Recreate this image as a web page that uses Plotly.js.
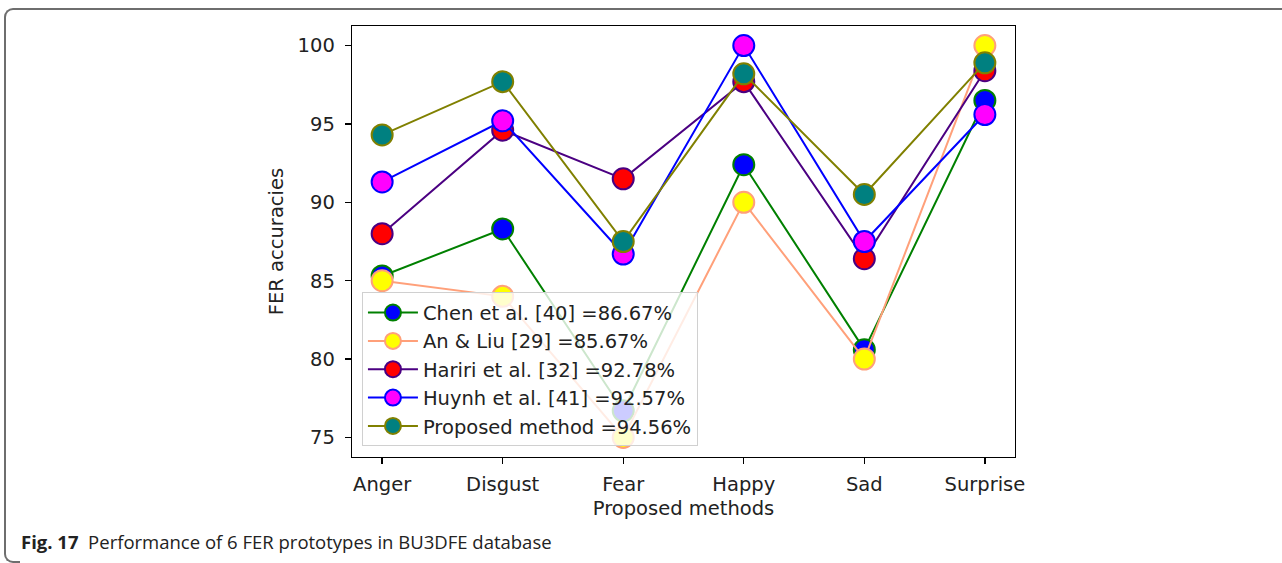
<!DOCTYPE html>
<html>
<head>
<meta charset="utf-8">
<script src="https://cdn.plot.ly/plotly-3.0.1.min.js"></script>
<style>
  html, body { margin: 0; padding: 0; background: #fff; }
  #wrap { position: relative; width: 1282px; height: 563px; overflow: hidden; }
  #chart { position: absolute; left: 0; top: 0; width: 1282px; height: 563px; }
  #frameTop { position: absolute; left: 4px; top: 8px; width: 1300px; height: 80px;
    border-top: 2px solid #6e6e6e; border-left: 2px solid #6e6e6e; border-top-left-radius: 9px; pointer-events: none; }
  #frameLeft { position: absolute; left: 4px; top: 60px; width: 14px; height: 501px;
    border-left: 2px solid #6e6e6e; border-bottom: 2px solid #6e6e6e; border-bottom-left-radius: 9px; pointer-events: none; }
</style>
</head>
<body>
<div id="wrap">
  <div id="chart"></div>
  <div id="frameTop"></div>
  <div id="frameLeft"></div>
</div>
<script>
const categories = ["Anger", "Disgust", "Fear", "Happy", "Sad", "Surprise"];
const chen     = [85.3, 88.3, 76.7, 92.4, 80.6, 96.5];
const anLiu    = [85.0, 84.0, 75.0, 90.0, 80.0, 100.0];
const hariri   = [88.0, 94.6, 91.5, 97.7, 86.4, 98.4];
const huynh    = [91.3, 95.2, 86.7, 100.0, 87.5, 95.6];
const proposed = [94.3, 97.7, 87.5, 98.2, 90.5, 98.9];
const seriesNames = [
  "Chen et al. [40] =86.67%",
  "An & Liu [29] =85.67%",
  "Hariri et al. [32] =92.78%",
  "Huynh et al. [41] =92.57%",
  "Proposed method =94.56%"
];
const yTicks = [75, 80, 85, 90, 95, 100];

const styles = [
  {line: "#008000", fill: "#0000ff"},
  {line: "#ffa07a", fill: "#ffff00"},
  {line: "#4b0082", fill: "#ff0000"},
  {line: "#0000ff", fill: "#ff00ff"},
  {line: "#808000", fill: "#008080"}
];
const allSeries = [chen, anLiu, hariri, huynh, proposed];
const xIdx = categories.map((c, i) => i);

const traces = allSeries.map((vals, k) => ({
  type: "scatter",
  mode: "lines+markers",
  x: xIdx,
  y: vals,
  name: seriesNames[k],
  line: {color: styles[k].line, width: 2},
  marker: {size: 21, color: styles[k].fill, line: {color: styles[k].line, width: 2}}
}));

const tickFont = {family: "DejaVu Sans", size: 19.5, color: "#222"};

const layout = {
  width: 1282,
  height: 563,
  paper_bgcolor: "#ffffff",
  plot_bgcolor: "#ffffff",
  margin: {l: 352, r: 267, t: 26, b: 106},
  showlegend: true,
  legend: {
    x: 0.015, y: 0.382, xanchor: "left", yanchor: "top",
    bgcolor: "rgba(255,255,255,0.8)",
    bordercolor: "#d0d0d0", borderwidth: 1,
    font: {family: "DejaVu Sans", size: 19.5, color: "#222"},
    tracegroupgap: 0,
    itemwidth: 50
  },
  xaxis: {
    range: [-0.25, 5.25],
    tickmode: "array",
    tickvals: xIdx,
    ticktext: categories,
    showgrid: false,
    zeroline: false,
    showline: true, mirror: true, linecolor: "#000", linewidth: 1.3,
    ticks: "outside", ticklen: 6, tickwidth: 1.3, tickcolor: "#000",
    ticklabelstandoff: 3,
    tickfont: tickFont,
    title: {text: "Proposed methods", font: tickFont, standoff: 6}
  },
  yaxis: {
    range: [73.75, 101.25],
    tickmode: "array",
    tickvals: yTicks,
    ticktext: yTicks.map(String),
    showgrid: false,
    zeroline: false,
    showline: true, mirror: true, linecolor: "#000", linewidth: 1.3,
    ticks: "outside", ticklen: 6, tickwidth: 1.3, tickcolor: "#000",
    ticklabelstandoff: 6,
    tickfont: tickFont,
    title: {text: "FER accuracies", font: tickFont, standoff: 8}
  },
  annotations: [{
    xref: "paper", yref: "paper",
    x: -0.502, y: -0.196, xanchor: "left", yanchor: "middle",
    showarrow: false,
    align: "left",
    text: "<b>Fig. 17</b>  Performance of 6 FER prototypes in BU3DFE database",
    font: {family: "Open Sans", size: 18.5, color: "#222"}
  }]
};

Plotly.newPlot("chart", traces, layout, {displayModeBar: false, staticPlot: true});
</script>
</body>
</html>
